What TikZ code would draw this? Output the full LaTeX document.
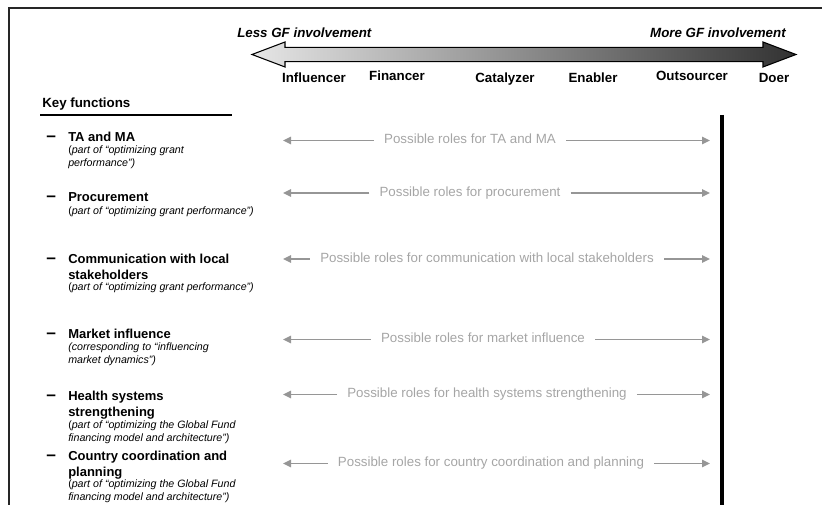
\documentclass[tikz,border=0pt]{standalone}
\usepackage{fontspec}
\setmainfont{Liberation Sans}
\usetikzlibrary{arrows.meta,positioning}
\definecolor{scalelight}{RGB}{230,230,230}
\definecolor{scaledark}{RGB}{50,50,50}
\definecolor{rolegray}{RGB}{165,165,165}
\definecolor{arrowgray}{RGB}{150,150,150}
\tikzset{
  scale end/.style={
    font=\fontsize{10}{12}\selectfont\bfseries\itshape,
    inner sep=0pt,
  },
  scale label/.style={
    font=\fontsize{10}{12}\selectfont\bfseries,
    inner sep=0pt,
    anchor=base,
  },
  key title/.style={
    font=\fontsize{9.75}{11.6}\selectfont\bfseries,
    align=left,
    inner sep=0pt,
    anchor=north west,
  },
  key note/.style={
    font=\fontsize{8}{9.5}\selectfont\itshape,
    align=left,
    inner sep=0pt,
    anchor=north west,
  },
  key dash/.style={
    font=\fontsize{13}{13}\selectfont\bfseries,
    inner sep=0pt,
    anchor=base west,
  },
  role text/.style={
    font=\fontsize{10}{12}\selectfont,
    text=rolegray,
    text height=7.2pt,
    text depth=2pt,
    inner ysep=0pt,
    inner xsep=7.5pt,
  },
  role arrow/.style={
    draw=arrowgray,
    line width=1.1pt,
    -{Triangle[length=6pt,width=5.5pt]},
  }
}

\begin{document}
\begin{tikzpicture}[x=0.75pt,y=-0.75pt]
        \useasboundingbox (0,0) rectangle (822,505);
        \draw[line width=1.1pt, black!85] (822,8) -- (9,8) -- (9,505);

        % involvement scale
        \path[draw=black, line width=0.8pt, left color=scalelight, right color=scaledark]
            (252,54.5) -- (285,42) -- (285,47.3) -- (763,47.3) -- (763,42) -- (796,54.5)
            -- (763,67) -- (763,61.7) -- (285,61.7) -- (285,67) -- cycle;
        \node [scale end, anchor=base west] (less) at (237,38) {Less GF involvement};
        \node [scale end, anchor=base east] (more) at (786,38) {More GF involvement};

        \node [scale label] (influencer) at (314,83) {Influencer};
        \node [scale label] (financer) at (397,80.5) {Financer};
        \node [scale label] (catalyzer) at (505,83) {Catalyzer};
        \node [scale label] (enabler) at (593,83) {Enabler};
        \node [scale label] (outsourcer) at (692,80.5) {Outsourcer};
        \node [scale label] (doer) at (774,83) {Doer};

        \draw[line width=2.3pt] (722,115) -- (722,505);

        % key functions
        \node [scale label, anchor=base west] (keyfn) at (42,107.5) {Key functions};
        \draw[line width=0.9pt] (40,115) -- (232,115);

        \node [key dash] (ta-dash) at (46,141.7) {–};
        \node [key title] (ta) at (68,132.3) {TA and MA};
        \node [key note] (ta-note) at (68,145.7) {{\upshape(}part of “optimizing grant\\performance”)};

        \node [key dash] (proc-dash) at (46,201.7) {–};
        \node [key title] (proc) at (68,192.3) {Procurement};
        \node [key note] (proc-note) at (68,206.2) {{\upshape(}part of “optimizing grant performance”)};

        \node [key dash] (comm-dash) at (46,263.7) {–};
        \node [key title] (comm) at (68,254.3) {Communication with local\\stakeholders};
        \node [key note] (comm-note) at (68,282.7) {{\upshape(}part of “optimizing grant performance”)};

        \node [key dash] (market-dash) at (46,338.7) {–};
        \node [key title] (market) at (68,329.3) {Market influence};
        \node [key note] (market-note) at (68,342.7) {(corresponding to “influencing\\market dynamics”)};

        \node [key dash] (health-dash) at (46,400.7) {–};
        \node [key title] (health) at (68,391.3) {Health systems\\strengthening};
        \node [key note] (health-note) at (68,420.7) {{\upshape(}part of “optimizing the Global Fund\\financing model and architecture”)};

        \node [key dash] (country-dash) at (46,460.7) {–};
        \node [key title] (country) at (68,451.3) {Country coordination and\\planning};
        \node [key note] (country-note) at (68,479.7) {{\upshape(}part of “optimizing the Global Fund\\financing model and architecture”)};

        % possible roles
        \node [role text] (ta-role) at (470,140.5) {Possible roles for TA and MA};
        \node [role text] (proc-role) at (470,193) {Possible roles for procurement};
        \node [role text] (comm-role) at (487,259) {Possible roles for communication with local stakeholders};
        \node [role text] (market-role) at (483,339.5) {Possible roles for market influence};
        \node [role text] (health-role) at (487,394.5) {Possible roles for health systems strengthening};
        \node [role text] (country-role) at (491,463.5) {Possible roles for country coordination and planning};

        \foreach \r/\y in {ta/140.5, proc/193, comm/259, market/339.5, health/394.5, country/463.5} {
            \coordinate (\r-min) at (283,\y);
            \coordinate (\r-max) at (710,\y);
            \draw[role arrow] (\r-role.west) -- (\r-min);
            \draw[role arrow] (\r-role.east) -- (\r-max);
        }
\end{tikzpicture}
\end{document}
